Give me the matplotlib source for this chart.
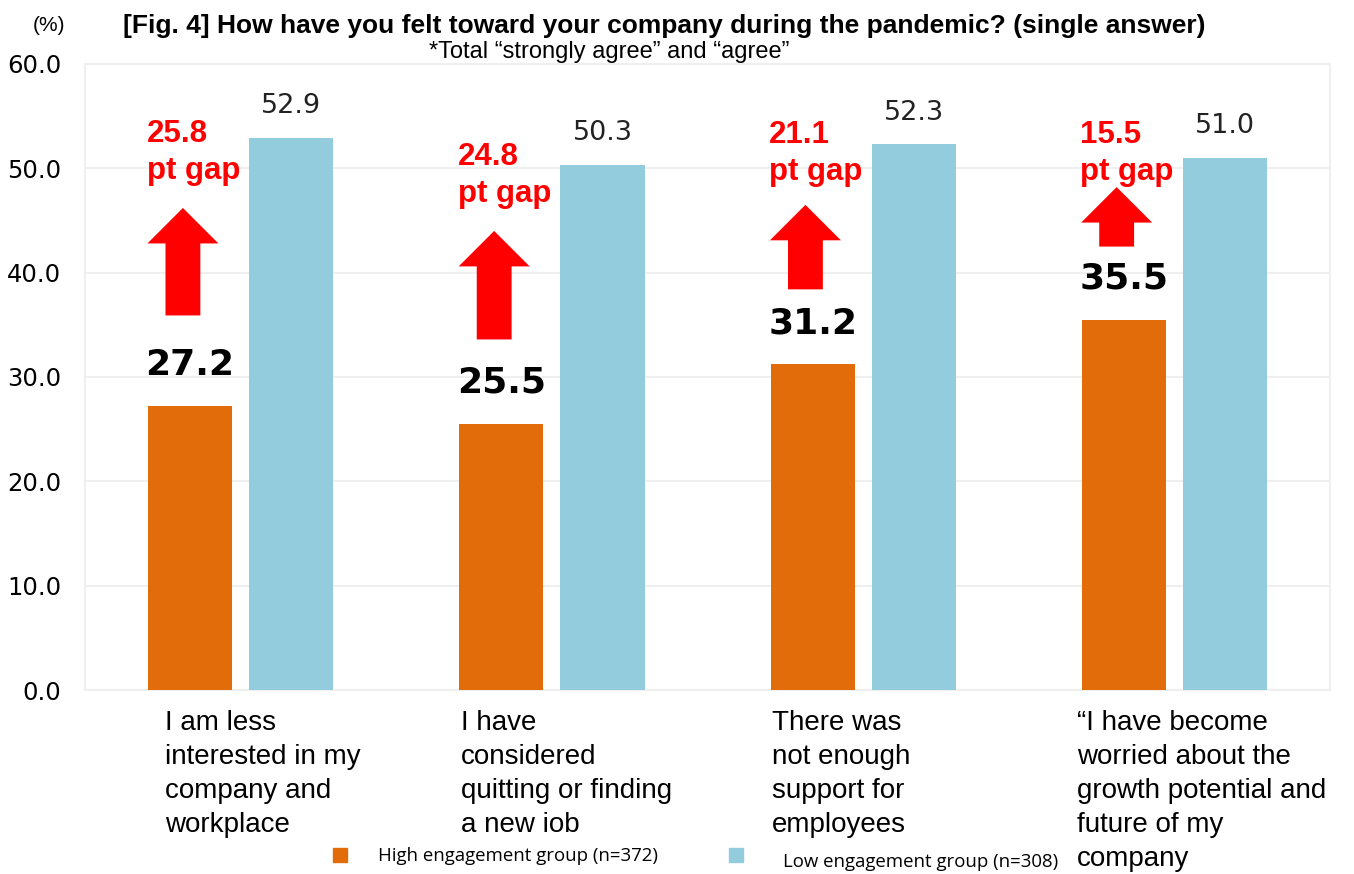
import matplotlib
matplotlib.use("Agg")
import matplotlib.pyplot as plt
import numpy as np
from matplotlib.patches import FancyArrow, Rectangle

categories = [
    "I am less\ninterested in my\ncompany and\nworkplace",
    "I have\nconsidered\nquitting or finding\na new iob",
    "There was\nnot enough\nsupport for\nemployees",
    "\u201cI have become\nworried about the\ngrowth potential and\nfuture of my\ncompany",
]
high_values = [27.2, 25.5, 31.2, 35.5]
low_values = [52.9, 50.3, 52.3, 51.0]
gap_labels = ["25.8\npt gap", "24.8\npt gap", "21.1\npt gap", "15.5\npt gap"]
yticks = [0, 10, 20, 30, 40, 50, 60]
series_names = ["High engagement group (n=372)", "Low engagement group (n=308)"]

# layout constants (annotation placement)
arrow_spans = [(35.9, 46.2), (33.6, 44.0), (38.4, 46.5), (42.5, 48.2)]
gap_text_y = [54.7, 52.5, 54.6, 54.6]
label_shift = [-0.243, -0.292, -0.293, -0.313]

ORANGE = "#E36C0A"
BLUE = "#93CDDD"
RED = "#FF0000"

fig = plt.figure(figsize=(13.54, 8.74), dpi=100)
ax = fig.add_axes([0.0628, 0.2105, 0.9195, 0.7163])

x = np.arange(len(categories)) + 0.5
w = 0.27
off = 0.1625
ax.bar(x - off, high_values, w, color=ORANGE, zorder=3)
ax.bar(x + off, low_values, w, color=BLUE, zorder=3)

ax.set_xlim(0, len(categories))
ax.set_ylim(0, 60)
ax.set_yticks(yticks)
ax.set_yticklabels([f"{v:.1f}" for v in yticks], fontsize=17.5, family="DejaVu Sans")
ax.tick_params(axis="y", length=0, pad=17)
ax.set_xticks([])
ax.grid(axis="y", color="#EFEFEF", linewidth=1.5, zorder=0)
for s in ax.spines.values():
    s.set_color("#EFEFEF")
    s.set_linewidth(1.5)

for i in range(len(categories)):
    ax.text(x[i] - off, high_values[i] + 2.3, f"{high_values[i]:.1f}", ha="center", va="bottom",
            fontsize=26, fontweight="bold", family="DejaVu Sans", color="black")
    ax.text(x[i] + off, low_values[i] + 1.8, f"{low_values[i]:.1f}", ha="center", va="bottom",
            fontsize=19.5, family="DejaVu Sans", color="#222222")
    ax.text(x[i] - off - 0.14, gap_text_y[i], gap_labels[i], ha="left", va="top",
            fontsize=22.5, fontweight="bold", family="Liberation Sans", color=RED, linespacing=1.28)
    y0, y1 = arrow_spans[i]
    ax.add_patch(FancyArrow(x[i] - off - 0.023, y0, 0, y1 - y0, width=0.112, head_width=0.228,
                            head_length=3.4, length_includes_head=True, color=RED, zorder=4, lw=0))
    ax.text(x[i] + label_shift[i], -1.9, categories[i], ha="left", va="top",
            fontsize=20, family="Liberation Sans", color="black", linespacing=1.4)

fig.text(0.0244, 0.971, "(%)", fontsize=15, family="Liberation Sans", ha="left", va="center")
fig.text(0.0908, 0.970, "[Fig. 4] How have you felt toward your company during the pandemic? (single answer)",
         fontsize=19, fontweight="bold", family="Liberation Sans", ha="left", va="center")
fig.text(0.3165, 0.940, "*Total \u201cstrongly agree\u201d and \u201cagree\u201d",
         fontsize=17, family="Liberation Sans", ha="left", va="center")

# legend
fig.patches.append(Rectangle((333 / 1354, 1 - 862 / 874), 14 / 1354, 14 / 874,
                             transform=fig.transFigure, color=ORANGE))
fig.text(378 / 1354, 1 - 856 / 874, series_names[0], fontsize=13.4, family="Open Sans", va="center")
fig.patches.append(Rectangle((729 / 1354, 1 - 862 / 874), 14 / 1354, 14 / 874,
                             transform=fig.transFigure, color=BLUE))
fig.text(783 / 1354, 1 - 862 / 874, series_names[1], fontsize=13.4, family="Open Sans", va="center")

fig.savefig("out.png", dpi=100)
